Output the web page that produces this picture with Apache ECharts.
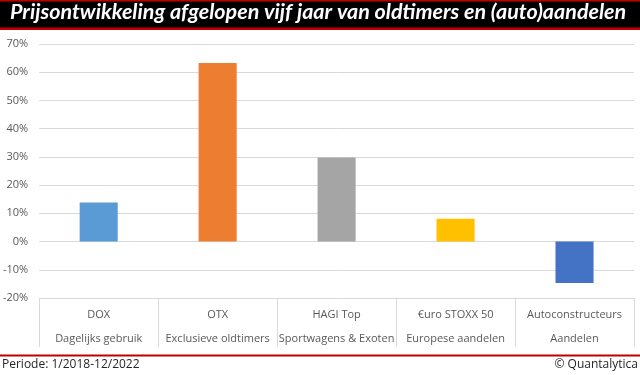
<!DOCTYPE html>
<html>
<head>
<meta charset="utf-8">
<script src="https://cdn.jsdelivr.net/npm/echarts@6/dist/echarts.min.js"></script>
<style>
html,body{margin:0;padding:0;background:#fff;}
#chart{width:640px;height:375px;}
</style>
</head>
<body>
<div id="chart"></div>
<script>
const titleText = 'Prijsontwikkeling afgelopen vijf jaar van oldtimers en (auto)aandelen';
const categories = ['DOX', 'OTX', 'HAGI Top', '€uro STOXX 50', 'Autoconstructeurs'];
const subLabels = ['Dagelijks gebruik', 'Exclusieve oldtimers', 'Sportwagens & Exoten', 'Europese aandelen', 'Aandelen'];
const values = [13.8, 63.3, 29.8, 8.1, -14.7];
const barColors = ['#5B9BD5', '#ED7D31', '#A5A5A5', '#FFC000', '#4472C4'];
const footLeft = 'Periode: 1/2018-12/2022';
const footRight = '© Quantalytica';

const chart = echarts.init(document.getElementById('chart'), null, {renderer: 'canvas'});
const font = '"Open Sans", "Noto Sans", sans-serif';

chart.setOption({
  animation: false,
  grid: {left: 38, right: 6, top: 44, bottom: 77, containLabel: false},
  xAxis: {
    type: 'category',
    data: categories.map((c, i) => c + '\n' + subLabels[i]),
    axisLine: {onZero: false, lineStyle: {color: '#d9d9d9', width: 1}},
    axisTick: {show: true, length: 49, lineStyle: {color: '#d9d9d9', width: 1}, alignWithLabel: false},
    axisLabel: {
      color: '#595959', fontFamily: font, fontSize: 11, lineHeight: 24, margin: 5, interval: 0
    },
    splitLine: {show: false}
  },
  yAxis: {
    type: 'value',
    min: -20, max: 70, interval: 10,
    axisLine: {show: false},
    axisTick: {show: false},
    axisLabel: {color: '#595959', fontFamily: font, fontSize: 11, margin: 11, formatter: v => v + '%'},
    splitLine: {lineStyle: {color: '#d9d9d9', width: 1}}
  },
  series: [{
    type: 'bar',
    barWidth: '32%',
    data: values.map((v, i) => ({value: v, itemStyle: {color: barColors[i]}}))
  }],
  graphic: [
    {type: 'rect', shape: {x: 0, y: 0, width: 640, height: 30}, style: {fill: '#C00000'}, z: 10},
    {type: 'rect', shape: {x: 0, y: 1.5, width: 640, height: 26}, style: {fill: '#000000'}, z: 11},
    {type: 'text', left: 10, top: 1, z: 12,
      style: {text: titleText, fill: '#ffffff', font: 'italic bold 21.5px Lato, "Open Sans", sans-serif'}},
    {type: 'rect', shape: {x: 0, y: 354.5, width: 640, height: 2}, style: {fill: '#C00000'}, z: 10},
    {type: 'text', left: 2, top: 359, z: 12,
      style: {text: footLeft, fill: '#262626', font: '12px "Open Sans", "Noto Sans", sans-serif'}},
    {type: 'text', right: 2, top: 359, z: 12,
      style: {text: footRight, fill: '#262626', font: '12px "Open Sans", "Noto Sans", sans-serif'}}
  ]
});
</script>
</body>
</html>
